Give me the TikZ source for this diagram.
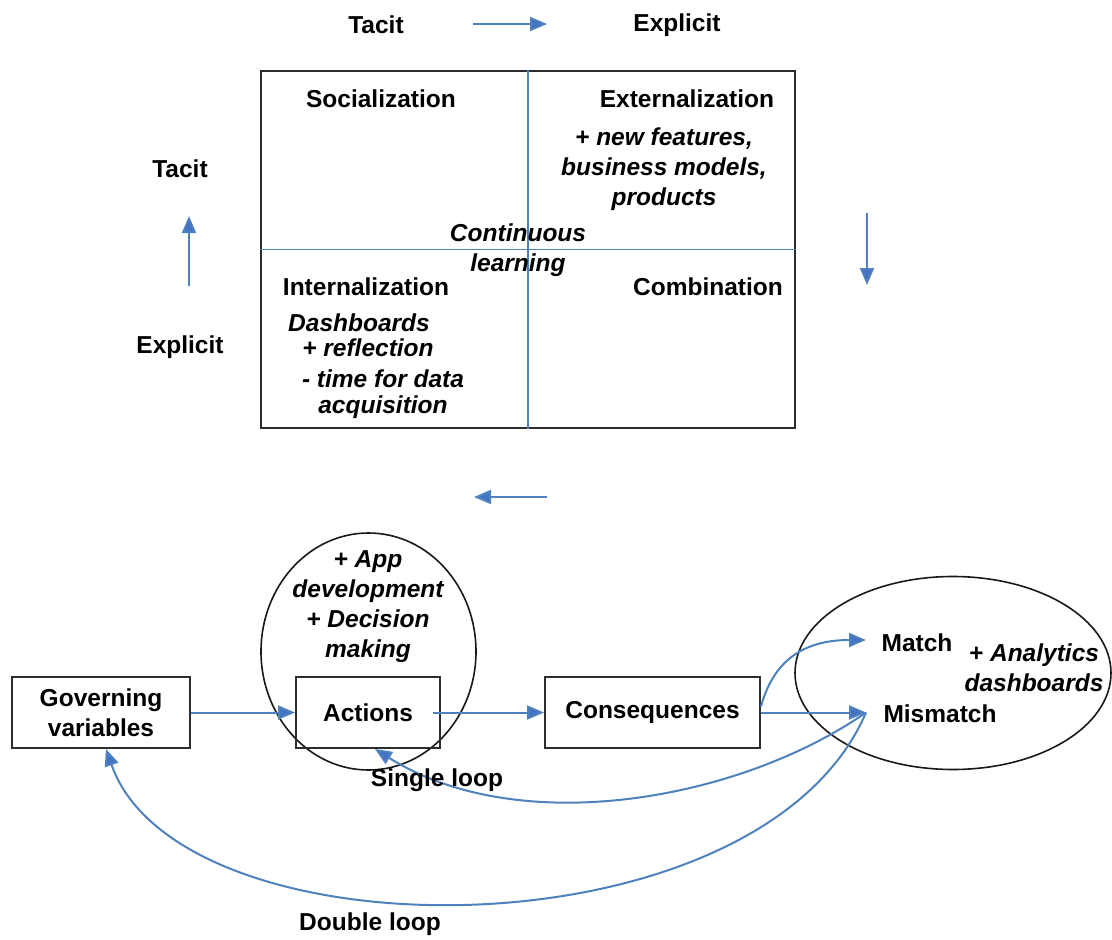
\documentclass[tikz,border=0pt]{standalone}
\usepackage{fontspec}
\setmainfont{Liberation Sans}
\usetikzlibrary{arrows.meta,shapes.geometric}
\definecolor{lblue}{RGB}{79,129,189}
\definecolor{ablue}{RGB}{68,114,196}
\definecolor{edge}{RGB}{45,45,45}
\begin{document}
\begin{tikzpicture}[x=1pt,y=-1pt,
  txt/.style={font=\bfseries\fontsize{24.5}{30}\selectfont, inner sep=0pt, align=center},
  itx/.style={font=\bfseries\itshape\fontsize{24.5}{30}\selectfont, inner sep=0pt, align=center},
  conn/.style={draw=lblue, line width=2pt, -{Triangle[length=17pt,width=14pt,fill=ablue]}},
  divider/.style={draw=lblue, line width=1.8pt},
  box/.style={draw=edge, line width=2pt, inner sep=0pt},
  oval/.style={ellipse, draw=black!90, line width=1.6pt, inner sep=0pt}
]
\useasboundingbox (0,0) rectangle (1112,940);

% ---- top axis ----
\node[txt] (topTacit) at (376,25) {Tacit};
\node[txt] (topExpl) at (677,25) {Explicit};
\coordinate (ha) at (473,24);
\coordinate (hb) at (547,24);
\draw[conn] (ha) -- (hb);

% ---- matrix ----
\node[box, minimum width=534, minimum height=357] (mat) at (528,249.5) {};
\draw[divider] (mat.north) -- (mat.south);
\draw[divider] (mat.west) -- (mat.east);

\node[txt] (soc) at (381,99) {Socialization};
\node[txt] (ext) at (687,99) {Externalization};
\node[itx] (extnote) at (664,169.5) {+ new features,\\business models,\\products};
\node[itx] (cont) at (518,250.5) {Continuous\\learning};
\node[txt] (intl) at (366,286.5) {Internalization};
\node[txt] (comb) at (708,286.5) {Combination};
\node[itx] (d1) at (359,322.5) {Dashboards};
\node[itx] (d2) at (368,347.5) {+ reflection};
\node[itx] (d3) at (383,378.5) {- time for data};
\node[itx] (d4) at (383,407.5) {acquisition};

% ---- side axis ----
\node[txt] (sideTacit) at (180,169) {Tacit};
\node[txt] (sideExpl) at (180,347) {Explicit};
\coordinate (ua) at (189,286);
\coordinate (ub) at (189,216);
\draw[conn] (ua) -- (ub);
\coordinate (da) at (867,213);
\coordinate (db) at (867,285);
\draw[conn] (da) -- (db);
\coordinate (la) at (547,497);
\coordinate (lb) at (474,497);
\draw[conn] (la) -- (lb);

% ---- bottom loop model ----
\node[oval, minimum width=215, minimum height=237] (actOval) at (368.5,651.5) {};
\node[oval, minimum width=316, minimum height=193] (resOval) at (953,673) {};

\node[box, minimum width=178, minimum height=71, txt] (gov) at (101,712.5) {Governing\\variables};
\node[box, minimum width=144, minimum height=71, txt] (act) at (368,712.5) {Actions};
\node[box, minimum width=215, minimum height=71, txt] (cons) at (652.5,712.5) {Consequences};

\node[itx] (actNote) at (368,606.5) {+ App\\development\\+ Decision\\making};
\node[txt] (match) at (917,642.5) {Match};
\node[txt] (mis) at (940,714) {Mismatch};
\node[itx] (anaNote) at (1034,667.5) {+ Analytics\\dashboards};

\coordinate (matchtip) at (866,640);
\coordinate (mistip) at (866,712.5);

\draw[conn] (gov.east) -- (act.west);
\draw[conn] ([xshift=-8pt]act.east) -- (cons.west);
\draw[conn] (cons.east) -- (mistip);
\draw[conn] ([yshift=6pt]cons.east) .. controls (775,655) and (810,640) .. (matchtip);
\draw[conn] (mistip) .. controls (740,800) and (520,840) .. ([xshift=7pt]act.south);
\draw[conn] (mistip) .. controls (760,960) and (180,960) .. ([xshift=5pt]gov.south);

\node[txt] (single) at (437,780) {Single loop};
\node[txt] (double) at (370,924) {Double loop};
\end{tikzpicture}
\end{document}
